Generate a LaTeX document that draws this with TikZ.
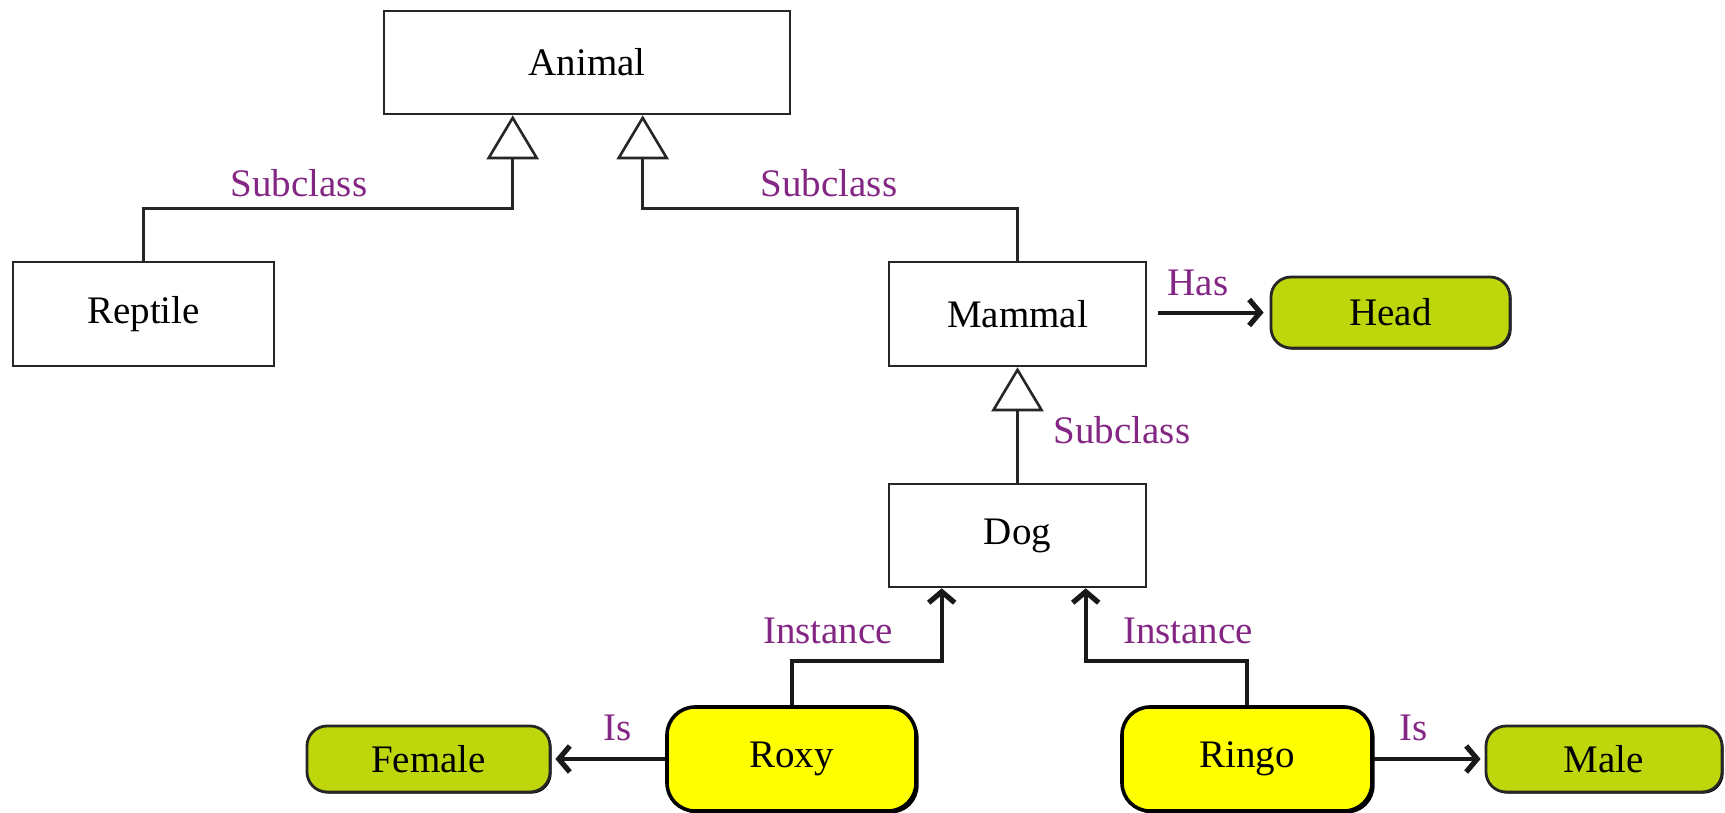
\documentclass[tikz,border=0pt]{standalone}
\usepackage{fontspec}
\setmainfont{Liberation Serif}
\usetikzlibrary{arrows.meta,shadows}
\definecolor{lbl}{RGB}{132,38,132}
\definecolor{lime}{RGB}{190,215,12}
\definecolor{yel}{RGB}{255,255,0}
\begin{document}
\begin{tikzpicture}[x=0.5pt,y=-0.5pt,
  font=\fontsize{19.5}{23}\selectfont,
  cls/.style={draw=black!85,line width=1.3pt,fill=white,inner sep=0pt},
  attr/.style={draw=black!85,line width=1.4pt,fill=lime,rounded corners=10pt,inner sep=0pt,
     drop shadow={shadow xshift=0.8pt,shadow yshift=-0.8pt,fill=black,opacity=1}},
  inst/.style={draw=black,line width=1.8pt,fill=yel,rounded corners=14pt,inner sep=0pt,
     drop shadow={shadow xshift=1.3pt,shadow yshift=-1.3pt,fill=black,opacity=1}},
  inh/.style={draw=black!85,line width=1.3pt,-{Triangle[open,length=22pt,width=26pt,line width=1.3pt]}},
  rel/.style={draw=black!90,line width=2pt,-{Straight Barb[length=5.5pt,width=13pt,line width=2.6pt]}},
  lab/.style={text=lbl,inner sep=0pt}]
\useasboundingbox[fill=white] (0,0) rectangle (1725,813);

% class boxes
\node[cls,minimum width=203pt,minimum height=51.5pt] (animal) at (587,62.5) {Animal};
\node[cls,minimum width=130.5pt,minimum height=52pt] (reptile) at (143.5,314) {Reptile};
\node[cls,minimum width=128.5pt,minimum height=52pt] (mammal) at (1017.5,314) {Mammal};
\node[cls,minimum width=128.5pt,minimum height=51.5pt] (dog) at (1017.5,535.5) {Dog};

% attribute and instance boxes
\node[attr,minimum width=119.5pt,minimum height=35.5pt] (head) at (1390.5,312.5) {Head};
\node[inst,minimum width=124.5pt,minimum height=52pt] (roxy) at (791.5,759) {Roxy};
\node[inst,minimum width=125pt,minimum height=52pt] (ringo) at (1247,759) {Ringo};
\node[attr,minimum width=121.5pt,minimum height=33pt] (female) at (428.5,759) {Female};
\node[attr,minimum width=118pt,minimum height=33pt] (male) at (1604,759) {Male};

% attachment points
\coordinate (animalL) at ([xshift=65pt]animal.south west);
\coordinate (animalR) at ([xshift=130pt]animal.south west);
\coordinate (dogL) at ([xshift=27pt]dog.south west);
\coordinate (dogR) at ([xshift=99pt]dog.south west);

% inheritance
\draw[inh] (reptile.north) -- ++(0,-52) -| (animalL);
\draw[inh] (mammal.north) -- ++(0,-52) -| (animalR);
\draw[inh] (dog.north) -- (mammal.south);

% instance
\draw[rel] (roxy.north) -- ++(0,-44) -| (dogL);
\draw[rel] (ringo.north) -- ++(0,-44) -| (dogR);

% has / is
\draw[rel,shorten <=5.5pt,shorten >=3pt] (head.west -| mammal.east) -- (head.west);
\draw[rel,shorten >=2pt] (roxy.west) -- (female.east);
\draw[rel,shorten >=2pt] (ringo.east) -- (male.west);

% labels
\node[lab] (l1) at (299,183) {Subclass};
\node[lab] (l2) at (829,183) {Subclass};
\node[lab] (l3) at (1122,430) {Subclass};
\node[lab] (l4) at (1198,283) {Has};
\node[lab] (l5) at (828,631) {Instance};
\node[lab] (l6) at (1188,631) {Instance};
\node[lab] (l7) at (618,728) {Is};
\node[lab] (l8) at (1414,728) {Is};
\end{tikzpicture}
\end{document}
